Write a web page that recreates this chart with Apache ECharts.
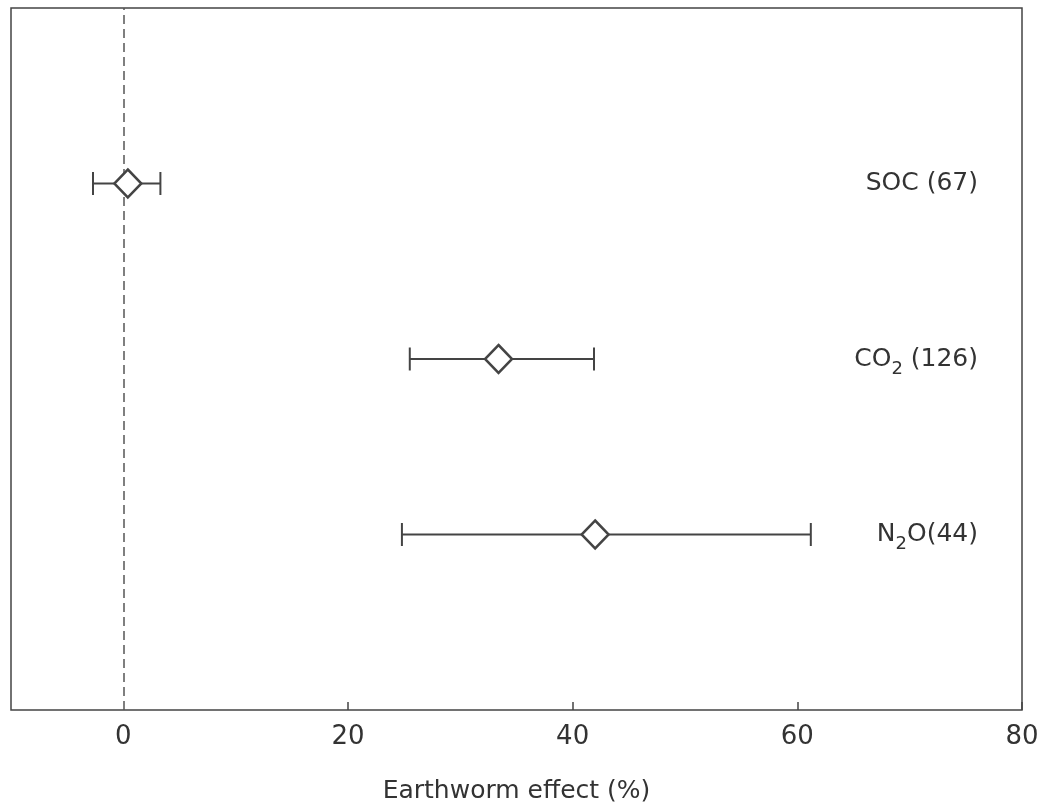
<!DOCTYPE html>
<html>
<head>
<meta charset="utf-8">
<script src="https://cdn.jsdelivr.net/npm/echarts@6/dist/echarts.min.js"></script>
<style>
  html, body { margin: 0; padding: 0; background: #fff; }
  #chart { width: 1049px; height: 806px; }
</style>
</head>
<body>
<div id="chart"></div>
<script>
// rows from bottom to top, blank slots pad the ends
const categories = ['', 'N2O(44)', 'CO2 (126)', 'SOC (67)', ' ']
const means = [null, 42.0, 33.4, 0.4, null]
const lows = [null, 24.8, 25.5, -2.7, null]
const highs = [null, 61.2, 41.9, 3.3, null]
const xLabels = [0, 20, 40, 60, 80]
const xTicks = [20, 40, 60, 80]

const INK = '#444'
const TEXT = '#333'
const FONT = 'DejaVu Sans'

const chart = echarts.init(document.getElementById('chart'), null, { renderer: 'canvas' })

const pointData = []
const barData = []
categories.forEach((c, i) => {
  if (means[i] == null) return
  pointData.push([means[i], i])
  barData.push([lows[i], highs[i], i])
})

chart.setOption({
  backgroundColor: '#ffffff',
  animation: false,
  grid: {
    left: 11, right: 27, top: 8, bottom: 96,
    outerBoundsMode: 'none',
    show: true, borderColor: INK, borderWidth: 1.5,
  },
  xAxis: {
    type: 'value',
    min: -10,
    max: 80,
    name: 'Earthworm effect (%)',
    nameLocation: 'middle',
    nameGap: 69,
    nameTextStyle: { fontSize: 25, color: TEXT, fontFamily: FONT },
    axisLine: { show: false },
    splitLine: { show: false },
    axisTick: {
      show: true, inside: true, length: 8,
      customValues: xTicks,
      lineStyle: { color: INK, width: 1.5 },
    },
    axisLabel: {
      customValues: xLabels,
      margin: 14,
      fontSize: 26, color: TEXT, fontFamily: FONT,
    },
  },
  yAxis: {
    type: 'category',
    data: categories,
    boundaryGap: false,
    position: 'right',
    axisLine: { show: false },
    axisTick: { show: false },
    splitLine: { show: false },
    axisLabel: {
      inside: true,
      margin: 44,
      fontSize: 25, color: TEXT, fontFamily: FONT,
      formatter: v => v.replace(/([A-Z])2/, '$1{sub|2}'),
      rich: {
        sub: { fontSize: 18, color: TEXT, fontFamily: FONT, padding: [20, 0, 0, 0] },
      },
    },
  },
  series: [
    {
      type: 'custom',
      data: barData,
      encode: { x: [0, 1], y: 2 },
      z: 2,
      renderItem: (params, api) => {
        const yi = api.value(2)
        const a = api.coord([api.value(0), yi])
        const b = api.coord([api.value(1), yi])
        const h = 11.5
        const style = { stroke: INK, lineWidth: 2, fill: null }
        return {
          type: 'group',
          children: [
            { type: 'line', shape: { x1: a[0], y1: a[1], x2: b[0], y2: b[1] }, style },
            { type: 'line', shape: { x1: a[0], y1: a[1] - h, x2: a[0], y2: a[1] + h }, style },
            { type: 'line', shape: { x1: b[0], y1: b[1] - h, x2: b[0], y2: b[1] + h }, style },
          ],
        }
      },
    },
    {
      type: 'scatter',
      data: pointData,
      symbol: 'diamond',
      symbolSize: [27, 28],
      z: 5,
      itemStyle: { color: '#ffffff', borderColor: INK, borderWidth: 2.5, opacity: 1 },
      markLine: {
        silent: true,
        symbol: 'none',
        z: 1,
        label: { show: false },
        lineStyle: { color: '#555', width: 1.5, type: [9, 5] },
        data: [{ xAxis: 0 }],
      },
    },
  ],
})
</script>
</body>
</html>
